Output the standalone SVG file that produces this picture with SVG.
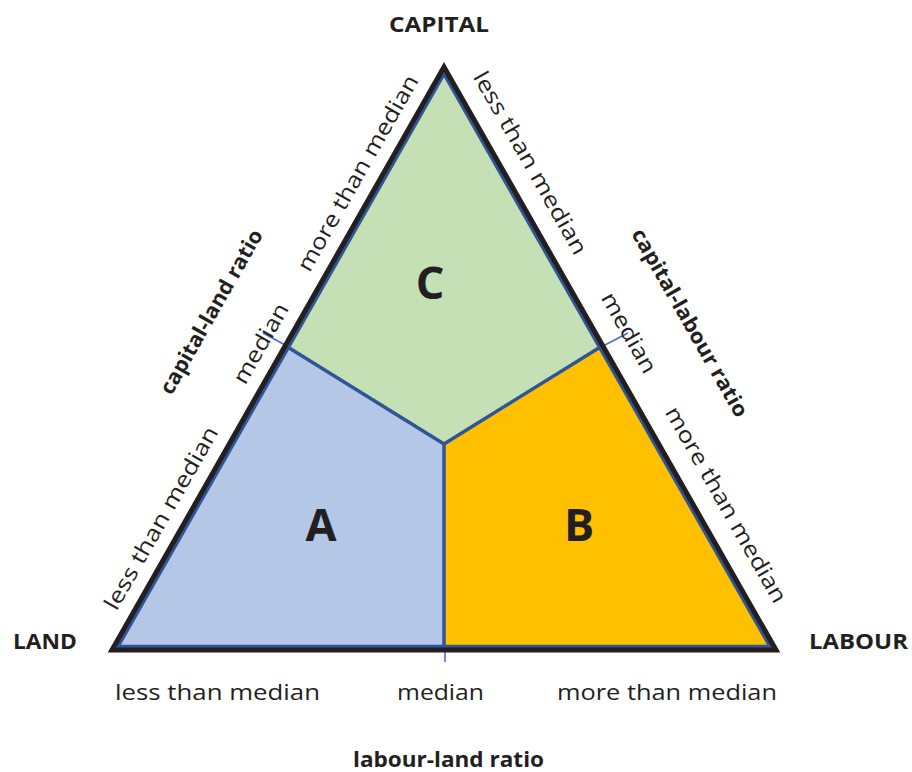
<svg xmlns="http://www.w3.org/2000/svg" width="912" height="772" viewBox="0 0 912 772">
<style>
  .reg { font-family: "Open Sans", "Liberation Sans", sans-serif; font-size: 22px; fill: #231F20; }
  .bld { font-family: "Open Sans", "Liberation Sans", sans-serif; font-size: 21px; font-weight: bold; fill: #231F20; }
  .big { font-family: "Open Sans", "Liberation Sans", sans-serif; font-size: 45px; font-weight: bold; fill: #231F20; text-anchor: middle; }
  .div { fill: none; stroke: #2F5597; stroke-width: 3.5; stroke-linejoin: round; }
  .tick { fill: none; stroke: #4472C4; stroke-width: 1.6; }
</style>
<rect width="912" height="772" fill="#ffffff"/>
<g id="region-C">
  <polygon points="444,67 285,346 444,444 603,346" fill="#C5E0B4"/>
  <text class="big" x="430" y="299">C</text>
</g>
<g id="region-A">
  <polygon points="285,346 444,444 444,650 112,650" fill="#B4C7E7"/>
  <text class="big" x="321" y="541">A</text>
</g>
<g id="region-B">
  <polygon points="444,444 603,346 776,650 444,650" fill="#FFC000"/>
  <text class="big" x="579" y="541">B</text>
</g>
<g id="connectors">
  <polyline class="div" points="286,346 444,444 602,346"/>
  <line class="div" x1="444" y1="444" x2="444" y2="648"/>
  <polygon class="div" points="444,74 118,646.5 770,646.5"/>
  <line class="tick" x1="287" y1="346" x2="263" y2="333"/>
  <line class="tick" x1="603" y1="346" x2="628" y2="333"/>
  <line class="tick" x1="445" y1="648" x2="445" y2="662"/>
</g>
<g id="triangle">
  <polygon points="444,67 112,650 776,650" fill="none" stroke="#231F20" stroke-width="5" stroke-linejoin="miter"/>
</g>
<g id="vertex-labels">
  <text class="bld" x="439" y="32" text-anchor="middle" textLength="100" lengthAdjust="spacingAndGlyphs">CAPITAL</text>
  <text class="bld" x="45" y="649" text-anchor="middle" textLength="64" lengthAdjust="spacingAndGlyphs">LAND</text>
  <text class="bld" x="858.5" y="649" text-anchor="middle" textLength="99" lengthAdjust="spacingAndGlyphs">LABOUR</text>
</g>
<g id="bottom-axis">
  <text class="reg" x="217.5" y="700" text-anchor="middle" textLength="205" lengthAdjust="spacingAndGlyphs">less than median</text>
  <text class="reg" x="440.5" y="700" text-anchor="middle" textLength="87" lengthAdjust="spacingAndGlyphs">median</text>
  <text class="reg" x="667" y="700" text-anchor="middle" textLength="220" lengthAdjust="spacingAndGlyphs">more than median</text>
  <text class="bld" x="448.5" y="767" text-anchor="middle" textLength="191" lengthAdjust="spacingAndGlyphs">labour-land ratio</text>
</g>
<g id="left-axis">
  <text class="reg" transform="translate(167.8,521.8) rotate(-60.34)" text-anchor="middle" textLength="207" lengthAdjust="spacingAndGlyphs">less than median</text>
  <text class="reg" transform="translate(267.3,347.1) rotate(-60.34)" text-anchor="middle" textLength="89" lengthAdjust="spacingAndGlyphs">median</text>
  <text class="reg" transform="translate(364.3,176.8) rotate(-60.34)" text-anchor="middle" textLength="222" lengthAdjust="spacingAndGlyphs">more than median</text>
  <text class="bld" font-size="20" transform="translate(217.5,315.3) rotate(-60.34)" text-anchor="middle" textLength="186" lengthAdjust="spacingAndGlyphs">capital-land ratio</text>
</g>
<g id="right-axis">
  <text class="reg" transform="translate(523.8,166.6) rotate(60.34)" text-anchor="middle" textLength="207" lengthAdjust="spacingAndGlyphs">less than median</text>
  <text class="reg" transform="translate(622.5,336.5) rotate(60.34)" text-anchor="middle" textLength="89" lengthAdjust="spacingAndGlyphs">median</text>
  <text class="reg" transform="translate(719.5,508.5) rotate(60.34)" text-anchor="middle" textLength="222" lengthAdjust="spacingAndGlyphs">more than median</text>
  <text class="bld" font-size="20" transform="translate(683.7,326.3) rotate(60.34)" text-anchor="middle" textLength="213" lengthAdjust="spacingAndGlyphs">capital-labour ratio</text>
</g>
</svg>
